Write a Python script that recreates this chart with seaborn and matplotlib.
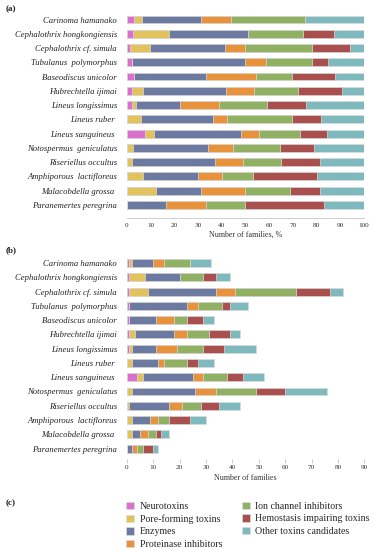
import numpy as np
import pandas as pd
import matplotlib
matplotlib.use("Agg")
import matplotlib.pyplot as plt
import seaborn as sns
from matplotlib.patches import Patch

species = [
    "Carinoma hamanako",
    "Cephalothrix hongkongiensis",
    "Cephalothrix cf. simula",
    "Tubulanus  polymorphus",
    "Baseodiscus unicolor",
    "Hubrechtella ijimai",
    "Lineus longissimus",
    "Lineus ruber ",
    "Lineus sanguineus ",
    "Notospermus  geniculatus",
    "Riseriellus occultus",
    "Amphiporous  lactifloreus",
    "Malacobdella grossa ",
    "Paranemertes peregrina",
]

categories = ["Neurotoxins", "Pore-forming toxins", "Enzymes", "Proteinase inhibitors",
              "Ion channel inhibitors", "Hemostasis impairing toxins", "Other toxins candidates"]

# number of toxin families per category (panel b)
neurotoxins = [1, 1, 1, 1, 1, 1, 1, 0, 4, 0, 0, 0, 0, 0]
pore_forming = [1, 6, 7, 0, 0, 2, 1, 2, 2, 2, 1, 2, 2, 0]
enzymes = [8, 13, 26, 22, 10, 15, 9, 10, 19, 24, 15, 7, 3, 2]
proteinase = [4, 0, 7, 4, 7, 5, 8, 2, 4, 8, 5, 3, 3, 2]
ion_channel = [10, 9, 23, 9, 5, 8, 10, 9, 9, 15, 7, 4, 3, 2]
hemostasis = [0, 5, 13, 3, 6, 8, 8, 4, 6, 11, 7, 8, 2, 4]
other = [8, 5, 5, 7, 4, 4, 12, 6, 8, 16, 8, 6, 3, 2]

colors = ["#DA6FD0", "#E2C35B", "#6C7AA2", "#E8923C", "#90B162", "#A9504F", "#7DB9BD"]

counts = pd.DataFrame(
    np.array([neurotoxins, pore_forming, enzymes, proteinase, ion_channel, hemostasis, other]).T,
    index=species, columns=categories)
percent = counts.div(counts.sum(axis=1), axis=0) * 100

W, H = 374, 550
fig = plt.figure(figsize=(W / 100, H / 100), dpi=100)
sns.set_style("white")
plt.rcParams["font.family"] = ["Liberation Serif", "DejaVu Serif"]

def px_axes(left, top, right, bottom):
    return fig.add_axes([left / W, 1 - bottom / H, (right - left) / W, (bottom - top) / H])

def stacked(ax, df):
    cum = df.cumsum(axis=1)
    for i in range(len(categories) - 1, -1, -1):
        d = pd.DataFrame({"species": df.index, "value": cum.iloc[:, i].values})
        sns.barplot(data=d, x="value", y="species", orient="h", color=colors[i],
                    width=0.55, saturation=1, edgecolor="#dcdcdc", linewidth=0.5, ax=ax)
    ax.set_ylabel("")
    for lab in ax.get_yticklabels():
        lab.set_fontstyle("italic")
        lab.set_fontsize(6.2)
        lab.set_color("#222222")
    ax.tick_params(axis="y", length=0, pad=7)
    for s in ["top", "right", "left"]:
        ax.spines[s].set_visible(False)

# Panel (a)
axa = px_axes(126.7, 12.4, 364, 217.7)
stacked(axa, percent)
axa.set_xlim(0, 100)
axa.set_ylim(13.9, -0.5)
axa.set_xticks(range(0, 101, 10))
axa.tick_params(axis="x", direction="inout", length=4, width=0.5, color="#b8b8b8",
                labelsize=5.2, labelcolor="#333333", pad=1.5)
axa.spines["bottom"].set_color("#c8c8c8")
axa.spines["bottom"].set_linewidth(0.6)
axa.set_xlabel("Number of families, %", fontsize=5.8, color="#333333", labelpad=2)

# Panel (b)
axb = px_axes(126.7, 255.9, 364.3, 459)
stacked(axb, counts)
axb.set_xlim(0, 90)
axb.set_ylim(13.73, -0.5)
axb.set_xticks(range(0, 91, 10))
axb.spines["bottom"].set_visible(False)
axb.tick_params(axis="x", direction="out", length=3, width=0.5, color="#b8b8b8",
                labelsize=5.2, labelcolor="#333333", pad=1.5, bottom=True)
axb.set_xlabel("Number of families", fontsize=5.8, color="#333333", labelpad=3)

# Panel labels
fig.text(6 / W, 1 - 9 / H, "(a)", fontsize=6.5, fontweight="bold", va="center", color="#222222")
fig.text(6 / W, 1 - 250 / H, "(b)", fontsize=6.5, fontweight="bold", va="center", color="#222222")
fig.text(6 / W, 1 - 503 / H, "(c)", fontsize=6.5, fontweight="bold", va="center", color="#222222")

handles = [Patch(facecolor=c, edgecolor="#dcdcdc", linewidth=0.5) for c in colors]
fig.legend(handles, categories, ncol=2, frameon=False, loc="upper left",
           bbox_to_anchor=(126 / W, 1 - 501.5 / H), fontsize=7.1,
           handlelength=0.78, handleheight=0.78, handletextpad=0.6,
           labelspacing=0.35, columnspacing=2.0, borderpad=0, borderaxespad=0)

fig.savefig("out.png", dpi=100)
